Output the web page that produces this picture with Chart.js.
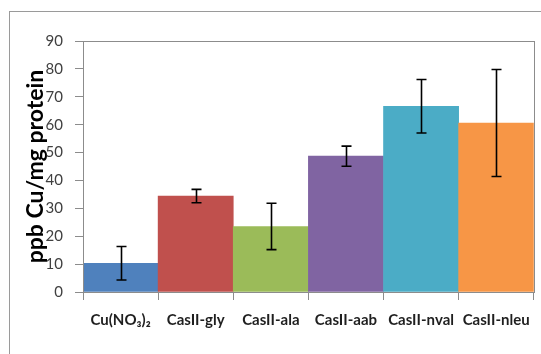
<!DOCTYPE html>
<html>
<head>
<meta charset="utf-8">
<script src="https://cdn.jsdelivr.net/npm/chart.js@4"></script>
<style>
  body { margin: 0; background: #fff; }
</style>
</head>
<body>
<canvas id="myChart" width="541" height="354"></canvas>
<script>
const categories = ['Cu(NO₃)₂', 'CasII-gly', 'CasII-ala', 'CasII-aab', 'CasII-nval', 'CasII-nleu']
const values = [10.3, 34.4, 23.5, 48.7, 66.6, 60.6]
const errors = [6.0, 2.4, 8.3, 3.6, 9.6, 19.2]
const barColors = ['#4F81BD', '#C0504D', '#9BBB59', '#8064A2', '#4BACC6', '#F79646']
const yMin = 0
const yMax = 90
const yStep = 10

// outer frame + plot border
const framePlugin = {
  id: 'frame',
  beforeDraw(chart) {
    const ctx = chart.ctx
    ctx.save()
    ctx.fillStyle = '#fff'
    ctx.fillRect(0, 0, chart.width, chart.height)
    ctx.strokeStyle = '#9a9a9a'
    ctx.lineWidth = 1
    ctx.strokeRect(9.5, 11.5, 700, 500)
    ctx.restore()
  },
  afterDraw(chart) {
    const a = chart.chartArea
    const ctx = chart.ctx
    ctx.save()
    ctx.strokeStyle = '#8c8c8c'
    ctx.lineWidth = 1
    ctx.strokeRect(Math.round(a.left) + 0.5, Math.round(a.top) + 0.5, Math.round(a.right - a.left), Math.round(a.bottom - a.top))
    ctx.restore()
  }
}

// error bars drawn from the data through the y scale
const errorBarPlugin = {
  id: 'errorBars',
  afterDatasetsDraw(chart) {
    const ctx = chart.ctx
    const y = chart.scales.y
    const meta = chart.getDatasetMeta(0)
    ctx.save()
    ctx.strokeStyle = '#000'
    ctx.lineWidth = 1.6
    meta.data.forEach((bar, i) => {
      const x = Math.round(bar.x) + 0.5
      const top = y.getPixelForValue(values[i] + errors[i])
      const bot = y.getPixelForValue(values[i] - errors[i])
      ctx.beginPath()
      ctx.moveTo(x, top)
      ctx.lineTo(x, bot)
      ctx.moveTo(x - 5, top)
      ctx.lineTo(x + 5, top)
      ctx.moveTo(x - 5, bot)
      ctx.lineTo(x + 5, bot)
      ctx.stroke()
    })
    ctx.restore()
  }
}

const data = {
  labels: categories,
  datasets: [
    {
      label: 'ppb Cu/mg protein',
      data: values,
      backgroundColor: barColors,
      borderWidth: 0,
      barPercentage: 1,
      categoryPercentage: 1
    }
  ]
}

const config = {
  type: 'bar',
  data: data,
  options: {
    responsive: false,
    animation: false,
    layout: { padding: { left: 22, right: 3, top: 41, bottom: 0 } },
    plugins: {
      legend: { display: false },
      tooltip: { enabled: false }
    },
    scales: {
      x: {
        afterFit(scale) { scale.height = 62 },
        grid: { display: true, drawOnChartArea: false, offset: true, tickLength: 8, color: '#8c8c8c' },
        border: { color: '#8c8c8c' },
        ticks: {
          padding: 11,
          color: '#1f1f1f',
          font: { family: 'Lato', size: 15, weight: 'bold' },
          maxRotation: 0,
          autoSkip: false
        }
      },
      y: {
        min: yMin,
        max: yMax,
        afterFit(scale) { scale.width = 61 },
        grid: { display: true, drawOnChartArea: false, tickLength: 8, color: '#8c8c8c' },
        border: { color: '#8c8c8c' },
        ticks: {
          stepSize: yStep,
          padding: 12,
          color: '#404040',
          font: { family: 'Lato', size: 15 }
        },
        title: {
          display: true,
          text: 'ppb Cu/mg protein',
          color: '#000',
          font: { family: 'Lato', size: 23, weight: 'bold' },
          padding: { top: 0, bottom: 0 }
        }
      }
    }
  },
  plugins: [framePlugin, errorBarPlugin]
}

new Chart(document.getElementById('myChart'), config)
</script>
</body>
</html>
